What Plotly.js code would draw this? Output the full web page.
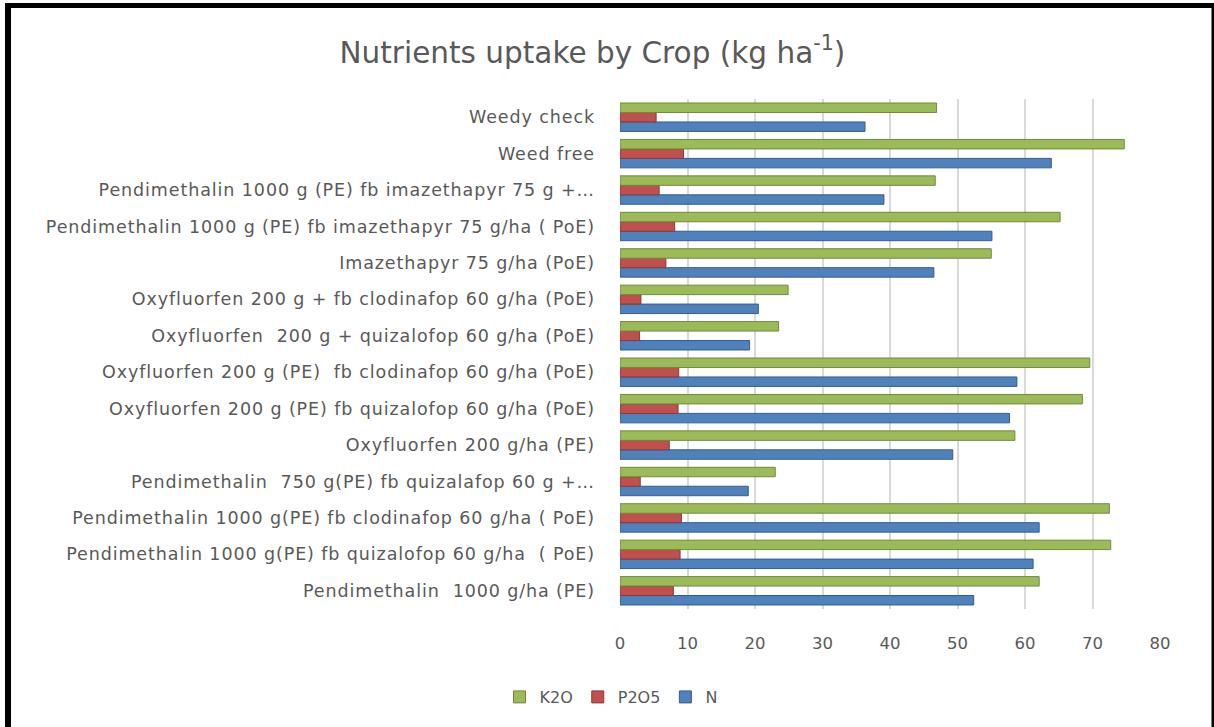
<!DOCTYPE html>
<html>
<head>
<meta charset="utf-8">
<script src="https://cdn.plot.ly/plotly-3.0.1.min.js"></script>
<style>
html,body{margin:0;padding:0;background:#fff;}
#chart{width:1214px;height:727px;}
#chart .ytick text{letter-spacing:0.9px;}
</style>
</head>
<body>
<div id="chart"></div>
<script>
// Categories listed bottom -> top
const categories = [
  "Pendimethalin  1000 g/ha (PE)",
  "Pendimethalin 1000 g(PE) fb quizalofop 60 g/ha  ( PoE)",
  "Pendimethalin 1000 g(PE) fb clodinafop 60 g/ha ( PoE)",
  "Pendimethalin  750 g(PE) fb quizalafop 60 g +…",
  "Oxyfluorfen 200 g/ha (PE)",
  "Oxyfluorfen 200 g (PE) fb quizalofop 60 g/ha (PoE)",
  "Oxyfluorfen 200 g (PE)  fb clodinafop 60 g/ha (PoE)",
  "Oxyfluorfen  200 g + quizalofop 60 g/ha (PoE)",
  "Oxyfluorfen 200 g + fb clodinafop 60 g/ha (PoE)",
  "Imazethapyr 75 g/ha (PoE)",
  "Pendimethalin 1000 g (PE) fb imazethapyr 75 g/ha ( PoE)",
  "Pendimethalin 1000 g (PE) fb imazethapyr 75 g +…",
  "Weed free",
  "Weedy check"
];
const N_values    = [52.4, 61.2, 62.1, 19.0, 49.3, 57.7, 58.8, 19.2, 20.5, 46.5, 55.1, 39.1, 63.9, 36.3];
const P2O5_values = [7.9, 8.9, 9.1, 3.0, 7.3, 8.6, 8.7, 2.9, 3.1, 6.8, 8.1, 5.8, 9.4, 5.35];
const K2O_values  = [62.1, 72.7, 72.5, 23.0, 58.5, 68.5, 69.6, 23.5, 24.9, 55.0, 65.2, 46.7, 74.7, 46.9];
const xTicks = [0, 10, 20, 30, 40, 50, 60, 70, 80];

const traces = [
  {type:'bar', orientation:'h', name:'N', y:categories, x:N_values,
   marker:{color:'#4F81BD', line:{color:'#385D8A', width:1}}},
  {type:'bar', orientation:'h', name:'P2O5', y:categories, x:P2O5_values,
   marker:{color:'#C0504D', line:{color:'#8C3836', width:1}}},
  {type:'bar', orientation:'h', name:'K2O', y:categories, x:K2O_values,
   marker:{color:'#9BBB59', line:{color:'#71893F', width:1}}}
];

const pw = 540, ph = 510, l = 620, t = 99;
function px(x){return (x - l)/pw;}
function py(y){return (t + ph - y)/ph;}

const FONT = '"DejaVu Sans", "Noto Sans", sans-serif';

const layout = {
  width:1214, height:727,
  margin:{l:620, r:54, t:99, b:118, pad:0},
  paper_bgcolor:'#ffffff', plot_bgcolor:'#ffffff',
  font:{family:FONT, color:'#595959', size:15},
  title:{text:'Nutrients uptake by Crop (kg ha<sup>-1</sup>)', x:0.488, xanchor:'center', y:0.928, yanchor:'middle',
         font:{family:FONT, size:29.5, color:'#595959'}},
  barmode:'group', bargap:0.22, bargroupgap:0,
  showlegend:true,
  legend:{orientation:'h', traceorder:'reversed', x:px(611), xanchor:'center', y:py(697), yanchor:'middle',
          font:{family:FONT, size:16, color:'#595959'}, bgcolor:'rgba(0,0,0,0)', itemwidth:30},
  xaxis:{range:[0,80], tickvals:xTicks, ticktext:xTicks.map(String), showgrid:true, gridcolor:'#D9D9D9', gridwidth:2,
         zeroline:false, showline:false, ticks:'', ticklabelstandoff:22, tickfont:{family:FONT, size:16.5, color:'#595959'}, fixedrange:true},
  yaxis:{type:'category', showgrid:false, zeroline:false, showline:false, ticks:'', ticklabelstandoff:24,
         tickfont:{family:FONT, size:17.5, color:'#595959'}, automargin:false},
  shapes:[
    {type:'line', xref:'paper', yref:'paper', x0:px(8), x1:px(8), y0:py(5), y1:py(740), line:{color:'#000', width:6}},
    {type:'line', xref:'paper', yref:'paper', x0:px(5), x1:px(1216), y0:py(5.5), y1:py(5.5), line:{color:'#000', width:5}},
    {type:'line', xref:'paper', yref:'paper', x0:px(1213), x1:px(1213), y0:py(5), y1:py(740), line:{color:'#000', width:3}}
  ]
};

Plotly.newPlot('chart', traces, layout, {displayModeBar:false, staticPlot:true});
</script>
</body>
</html>
